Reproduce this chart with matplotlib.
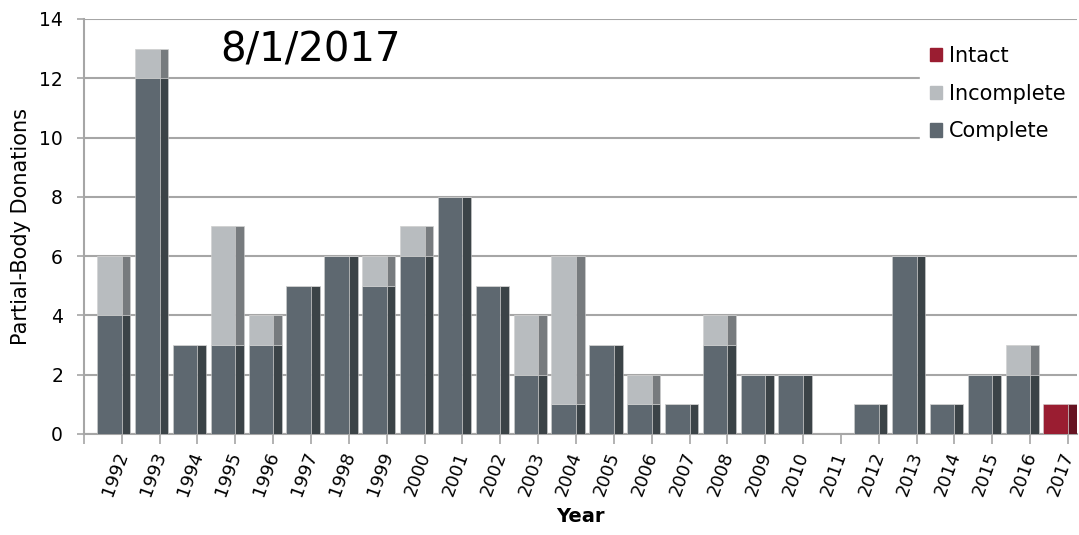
import numpy as np
import matplotlib
matplotlib.use("Agg")
import matplotlib.pyplot as plt
from matplotlib.patches import Patch

# data
years = ["1992", "1993", "1994", "1995", "1996", "1997", "1998", "1999", "2000",
         "2001", "2002", "2003", "2004", "2005", "2006", "2007", "2008", "2009",
         "2010", "2011", "2012", "2013", "2014", "2015", "2016", "2017"]
complete = [4, 12, 3, 3, 3, 5, 6, 5, 6, 8, 5, 2, 1, 3, 1, 1, 3, 2, 2, 0, 1, 6, 1, 2, 2, 0]
incomplete = [2, 1, 0, 4, 1, 0, 0, 1, 1, 0, 0, 2, 5, 0, 1, 0, 1, 0, 0, 0, 0, 0, 0, 0, 1, 0]
intact = [0, 0, 0, 0, 0, 0, 0, 0, 0, 0, 0, 0, 0, 0, 0, 0, 0, 0, 0, 0, 0, 0, 0, 0, 0, 1]

# colours: front face / shaded side
c_face, c_side = "#5e6870", "#3b4347"
i_face, i_side = "#b8bcbf", "#777b7e"
t_face, t_side = "#9a1d31", "#661322"
grid_col = "#a6a6a6"

plt.rcParams['font.family'] = ['DejaVu Sans']

fig = plt.figure(figsize=(10.79, 5.35), dpi=100)
ax = fig.add_axes([0.0778, 0.1888, 0.9204, 0.7757])

x = np.arange(len(years))
comp = np.array(complete)
inc = np.array(incomplete)
tac = np.array(intact)

face_x = x + 0.35
face_w = 0.65
side_x = x + 1.0
side_w = 0.23
ec = "#d0d0d0"

ax.bar(face_x, comp, width=face_w, align='edge', color=c_face, edgecolor=ec, linewidth=0.4, zorder=3)
ax.bar(side_x, comp, width=side_w, align='edge', color=c_side, edgecolor=ec, linewidth=0.4, zorder=3)
ax.bar(face_x, inc, width=face_w, bottom=comp, align='edge', color=i_face, edgecolor=ec, linewidth=0.4, zorder=3)
ax.bar(side_x, inc, width=side_w, bottom=comp, align='edge', color=i_side, edgecolor=ec, linewidth=0.4, zorder=3)
ax.bar(face_x, tac, width=face_w, bottom=comp + inc, align='edge', color=t_face, edgecolor=ec, linewidth=0.4, zorder=3)
ax.bar(side_x, tac, width=side_w, bottom=comp + inc, align='edge', color=t_side, edgecolor=ec, linewidth=0.4, zorder=3)

ax.set_xlim(0, 26.24)
ax.set_ylim(0, 14)
ax.set_yticks(range(0, 15, 2))
ax.yaxis.grid(True, color=grid_col, linewidth=1.5, zorder=0)
ax.set_axisbelow(True)

# boundary ticks between categories, labels sit near the right of each slot
ax.set_xticks(np.arange(0, 27), minor=True)
ax.set_xticks(x + 0.8)
ax.set_xticklabels(years, rotation=70, ha='right', va='top', rotation_mode='anchor', fontsize=13)
ax.tick_params(axis='x', which='major', length=0, pad=11)
ax.tick_params(axis='x', which='minor', length=7, color=grid_col, width=1.2)
ax.tick_params(axis='y', length=5, color=grid_col, width=1.2, pad=10, labelsize=13.5)

for s in ['top', 'right']:
    ax.spines[s].set_visible(False)
for s in ['left', 'bottom']:
    ax.spines[s].set_color(grid_col)
    ax.spines[s].set_linewidth(1.5)

ax.set_ylabel("Partial-Body Donations", fontsize=15, labelpad=6)
ax.set_xlabel("Year", fontsize=14, fontweight='bold', labelpad=6)

ax.text(0.137, 0.972, "8/1/2017", transform=ax.transAxes, fontsize=29, va='top', ha='left', color='black')

handles = [Patch(color=t_face, label="Intact"),
           Patch(color=i_face, label="Incomplete"),
           Patch(color=c_face, label="Complete")]
leg = ax.legend(handles=handles, loc='upper right', bbox_to_anchor=(1.005, 0.975), frameon=True,
                facecolor='white', edgecolor='white', framealpha=1, fontsize=15,
                handlelength=0.6, handleheight=0.6, handletextpad=0.3, labelspacing=0.85,
                borderpad=0.5, borderaxespad=0.3)

fig.savefig("out.png", dpi=100)
